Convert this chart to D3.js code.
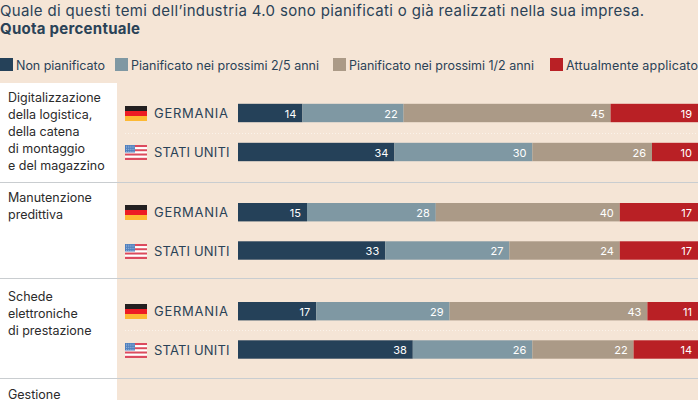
<!DOCTYPE html>
<html>
<head>
<meta charset="utf-8">
<script src="https://cdn.jsdelivr.net/npm/d3@7"></script>
<style>
  html, body { margin: 0; padding: 0; background: #f5e5d6; overflow: hidden; }
  text { font-family: "Inter", "Open Sans", sans-serif; }
</style>
</head>
<body>
<svg id="chart" width="698" height="400"></svg>
<script>
const legendLabels = ["Non pianificato", "Pianificato nei prossimi 2/5 anni", "Pianificato nei prossimi 1/2 anni", "Attualmente applicato"];
const colors = ["#254159", "#7f98a3", "#ab9a87", "#b92025"];
const topics = [
    ["Digitalizzazione", "della logistica,", "della catena", "di montaggio", "e del magazzino"],
    ["Manutenzione", "predittiva"],
    ["Schede", "elettroniche", "di prestazione"]
];
const germania = [[14, 22, 45, 19], [15, 28, 40, 17], [17, 29, 43, 11]];
const statiUniti = [[34, 30, 26, 10], [32, 27, 24, 17], [38, 26, 22, 14]];
// il 33 stampato e' piu' largo della barra disegnata
const statiUnitiLabels = [[34, 30, 26, 10], [33, 27, 24, 17], [38, 26, 22, 14]];

const svg = d3.select("#chart");
const x = d3.scaleLinear().domain([0, 100]).range([238, 698]);
const darkText = "#2a4257";

// titolo
svg.append("text").attr("x", 0).attr("y", 16).attr("font-size", 15).attr("fill", darkText)
    .attr("textLength", 644).text("Quale di questi temi dell’industria 4.0 sono pianificati o già realizzati nella sua impresa.");
svg.append("text").attr("x", 0).attr("y", 34).attr("font-size", 15).attr("font-weight", 700).attr("fill", darkText)
    .attr("textLength", 140).text("Quota percentuale");

// legenda
const legendX = [0, 115, 333, 550];
const legendW = [89, 188, 185, 132];
legendLabels.forEach((d, i) => {
    svg.append("rect").attr("x", legendX[i]).attr("y", 58).attr("width", 13).attr("height", 13).attr("fill", colors[i]);
    svg.append("text").attr("x", legendX[i] + 16).attr("y", 70).attr("font-size", 12.5).attr("fill", darkText)
        .attr("textLength", legendW[i]).text(d);
});

// pannello sinistro
svg.append("rect").attr("x", 0).attr("y", 83).attr("width", 117).attr("height", 317).attr("fill", "#fff");

const rowTop = [83, 183, 282];
const rowGermania = [113, 212.2, 311.2];
const rowUsa = [152, 250.5, 349.5];
const dividers = [182, 278, 378];

dividers.forEach(y => {
    svg.append("line").attr("x1", 0).attr("x2", 698).attr("y1", y + .5).attr("y2", y + .5)
        .attr("stroke", "#c9cdd0").attr("stroke-width", 1);
});

topics.forEach((lines, t) => {
    lines.forEach((l, i) => {
        svg.append("text").attr("x", 8).attr("y", rowTop[t] + 18.5 + i * 17)
            .attr("font-size", 12.5).attr("fill", "#2b2b2b").text(l);
    });
    drawRow(germania[t], germania[t], rowGermania[t], "GERMANIA", drawGerman);
    drawRow(statiUniti[t], statiUnitiLabels[t], rowUsa[t], "STATI UNITI", drawUsa);
    if (t !== 1) {
        const midY = Math.round((rowGermania[t] + rowUsa[t]) / 2) + .5;
        svg.append("line").attr("x1", 125).attr("x2", 698).attr("y1", midY).attr("y2", midY)
            .attr("stroke", "#fbf3ea").attr("stroke-dasharray", "1 2");
    }
});

svg.append("text").attr("x", 8).attr("y", 399).attr("font-size", 12.5).attr("fill", "#2b2b2b").text("Gestione");

function drawRow(values, labels, cy, name, flag) {
    let acc = 0;
    values.forEach((v, i) => {
        const x0 = x(acc), x1 = x(acc + v);
        svg.append("rect").attr("x", x0).attr("y", cy - 9.2).attr("width", x1 - x0).attr("height", 18.4).attr("fill", colors[i]);
        svg.append("text").attr("x", x1 - 6).attr("y", cy + 4.5).attr("text-anchor", "end")
            .attr("font-size", 11).attr("fill", "#fff").text(labels[i]);
        acc += v;
    });
    flag(125, Math.round(cy) - 7);
    svg.append("text").attr("x", 154).attr("y", cy + 5).attr("font-size", 13)
        .attr("fill", darkText).attr("textLength", name === "GERMANIA" ? 74 : 75.5).text(name);
}

function drawGerman(fx, fy) {
    ["#231f20", "#ed1c24", "#fdb933"].forEach((c, i) => {
        svg.append("rect").attr("x", fx).attr("y", fy + i * 5).attr("width", 22).attr("height", 5).attr("fill", c);
    });
}

function drawUsa(fx, fy) {
    d3.range(7).forEach(i => {
        svg.append("rect").attr("x", fx).attr("y", fy + i * 2.14).attr("width", 22).attr("height", 2.14)
            .attr("fill", i % 2 ? "#fff" : "#dc4a5e");
    });
    svg.append("rect").attr("x", fx).attr("y", fy).attr("width", 10).attr("height", 7.5).attr("fill", "#4f7fbd");
    // stelle
    d3.range(4).forEach(r => d3.range(5).forEach(c => {
        svg.append("rect").attr("x", fx + 1 + c * 1.9).attr("y", fy + .8 + r * 1.7)
            .attr("width", .7).attr("height", .7).attr("fill", "#dbe6f3");
    }));
}
</script>
</body>
</html>
